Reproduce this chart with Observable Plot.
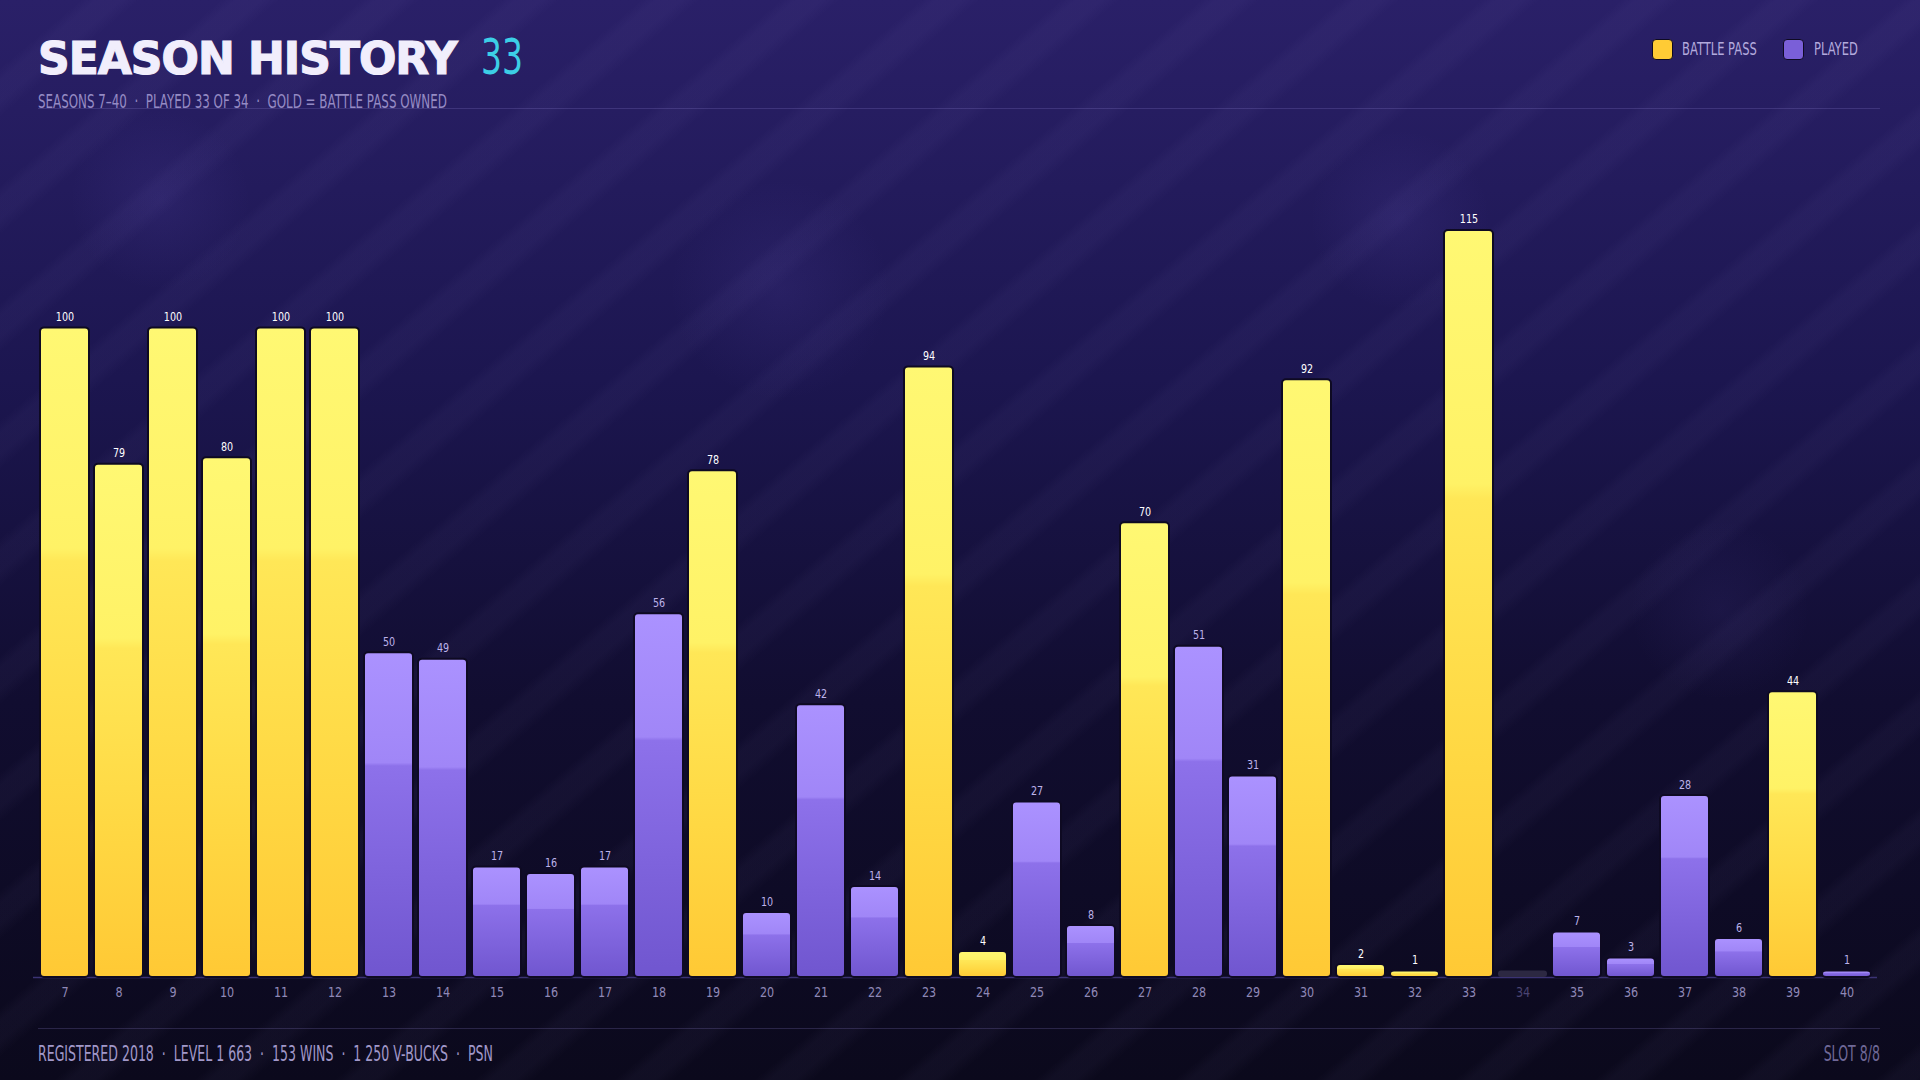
<!DOCTYPE html>
<html><head><meta charset="utf-8">
<script src="https://cdn.jsdelivr.net/npm/d3@7"></script>
<script src="https://cdn.jsdelivr.net/npm/@observablehq/plot@0.6"></script>
<style>
html,body{margin:0;padding:0;}
body{width:1920px;height:1080px;overflow:hidden;position:relative;
 font-family:"DejaVu Sans",sans-serif;
 background:
  radial-gradient(circle at 160px 200px, rgba(120,100,220,0.10) 0, rgba(120,100,220,0) 90px),
  radial-gradient(circle at 780px 290px, rgba(120,100,220,0.10) 0, rgba(120,100,220,0) 110px),
  radial-gradient(circle at 1400px 220px, rgba(120,100,220,0.10) 0, rgba(120,100,220,0) 90px),
  radial-gradient(circle at 1720px 610px, rgba(120,100,220,0.08) 0, rgba(120,100,220,0) 90px),
  repeating-linear-gradient(140deg, rgba(255,255,255,0) 0px, rgba(255,255,255,0) 52px, rgba(190,175,255,0.035) 62px, rgba(190,175,255,0.035) 78px, rgba(255,255,255,0) 90px),
  linear-gradient(180deg, #2a2068 0%, #1c1650 35%, #110d30 65%, #0b091c 100%);
}
.cond{display:inline-block;transform:scaleX(0.66);transform-origin:left center;white-space:nowrap;}
#title{position:absolute;left:38px;top:33px;white-space:nowrap;}
#title .main{font-family:"DejaVu Sans",sans-serif;font-weight:900;font-size:44px;color:#f1eefc;letter-spacing:-1px;-webkit-text-stroke:1.2px #f1eefc;}
#num{position:absolute;left:481px;top:28px;font-size:50px;color:#3ccfe6;}
#subtitle{position:absolute;left:38px;top:90px;font-size:19px;color:#958bc4;transform:scaleX(0.625);}
.hline{position:absolute;left:38px;width:1842px;height:1px;background:rgba(150,135,220,0.22);}
.sw{position:absolute;top:39px;width:19px;height:19px;border-radius:4px;border:1px solid #0e0a22;}
.lg{position:absolute;top:38px;font-size:18px;color:#b3aadd;transform:scaleX(0.64);}
#chart{position:absolute;left:0;top:120px;}
#footer{position:absolute;left:38px;top:1042px;font-size:20.5px;color:#a198c9;transform:scaleX(0.612);}
#slot{position:absolute;right:40px;top:1042px;font-size:20.5px;color:#6f6897;transform:scaleX(0.612);transform-origin:right center;}
</style></head><body>
<div id="title"><span class="main">SEASON HISTORY</span></div>
<div id="num" class="cond">33</div>
<div id="subtitle" class="cond">SEASONS 7–40 &nbsp;·&nbsp; PLAYED 33 OF 34 &nbsp;·&nbsp; GOLD = BATTLE PASS OWNED</div>
<div class="hline" style="top:108px"></div>
<div class="sw" style="left:1652px;background:#ffcb35"></div>
<div class="lg cond" style="left:1682px">BATTLE PASS</div>
<div class="sw" style="left:1783px;background:#7a5fd8"></div>
<div class="lg cond" style="left:1814px">PLAYED</div>
<div id="chart"></div>
<div class="hline" style="top:1028px"></div>
<div id="footer" class="cond">REGISTERED 2018 &nbsp;·&nbsp; LEVEL 1 663 &nbsp;·&nbsp; 153 WINS &nbsp;·&nbsp; 1 250 V-BUCKS &nbsp;·&nbsp; PSN</div>
<div id="slot" class="cond">SLOT 8/8</div>
<script>
const seasons = [7,8,9,10,11,12,13,14,15,16,17,18,19,20,21,22,23,24,25,26,27,28,29,30,31,32,33,34,35,36,37,38,39,40];
const levels  = [100,79,100,80,100,100,50,49,17,16,17,56,78,10,42,14,94,4,27,8,70,51,31,92,2,1,115,null,7,3,28,6,44,1];
const battlePassSeasons = [7,8,9,10,11,12,19,23,24,27,30,31,32,33,39];
const skippedSeasons = [34];
const skippedStub = 1;

const rows = seasons.map((s, i) => ({
  season: s,
  level: levels[i],
  bp: battlePassSeasons.includes(s),
  skipped: skippedSeasons.includes(s)
}));
const played = rows.filter(d => !d.skipped);
const gold = played.filter(d => d.bp);
const purple = played.filter(d => !d.bp);
const skipped = rows.filter(d => d.skipped).map(d => ({...d, stub: skippedStub}));

const svg = Plot.plot({
  width: 1920, height: 900,
  marginTop: 45, marginBottom: 43, marginLeft: 33, marginRight: 43,
  style: {background: "transparent", overflow: "visible", fontFamily: "'DejaVu Sans',sans-serif"},
  x: {type: "band", domain: seasons, padding: 0.1, axis: null},
  y: {domain: [0, 125], axis: null},
  marks: [
    Plot.ruleY([0], {stroke: "#3b3374", strokeWidth: 1.5}),
    Plot.barY(skipped, {x: "season", y: "stub", fill: "#2c2842", rx: 3}),
    Plot.barY(gold, {x: "season", y: "level", fill: "url(#gradGold)", stroke: "#0e0a22", strokeWidth: 2, rx: 4}),
    Plot.barY(purple, {x: "season", y: "level", fill: "url(#gradPurple)", stroke: "#0e0a22", strokeWidth: 2, rx: 4}),
    Plot.text(played, {x: "season", y: "level", text: d => String(d.level), lineAnchor: "bottom", dy: -7,
      fill: d => d.bp ? "#ffffff" : "#bdb3ea", fontSize: 12, fontWeight: d => d.bp ? 700 : 400}),
    Plot.text(rows, {x: "season", text: d => String(d.season), frameAnchor: "bottom", lineAnchor: "middle", dy: 15,
      fill: d => d.skipped ? "#4a4472" : "#8f88b7", fontSize: 14})
  ]
});

const defs = d3.select(svg).insert("defs", ":first-child");
const g1 = defs.append("linearGradient").attr("id", "gradGold").attr("x1", 0).attr("y1", 0).attr("x2", 0).attr("y2", 1);
[["0%", "#fff873"], ["34%", "#fff266"], ["36%", "#ffe757"], ["70%", "#ffd843"], ["100%", "#ffc935"]]
  .forEach(([o, c]) => g1.append("stop").attr("offset", o).attr("stop-color", c));
const g2 = defs.append("linearGradient").attr("id", "gradPurple").attr("x1", 0).attr("y1", 0).attr("x2", 0).attr("y2", 1);
[["0%", "#ab92ff"], ["34%", "#a086f7"], ["35%", "#8d71ea"], ["100%", "#7056cf"]]
  .forEach(([o, c]) => g2.append("stop").attr("offset", o).attr("stop-color", c));

// condense SVG labels to match the narrow typeface of the reference
d3.select(svg).selectAll("text").each(function() {
  const t = this.getAttribute("transform");
  if (t && t.includes("translate")) {
    this.setAttribute("transform", t + " scale(0.8,1)");
  } else {
    const x = +(this.getAttribute("x") || 0), y = +(this.getAttribute("y") || 0);
    this.removeAttribute("x"); this.removeAttribute("y");
    this.setAttribute("transform", `translate(${x},${y}) scale(0.8,1)` + (t ? " " + t : ""));
  }
});

document.getElementById("chart").appendChild(svg);
</script>
</body></html>
